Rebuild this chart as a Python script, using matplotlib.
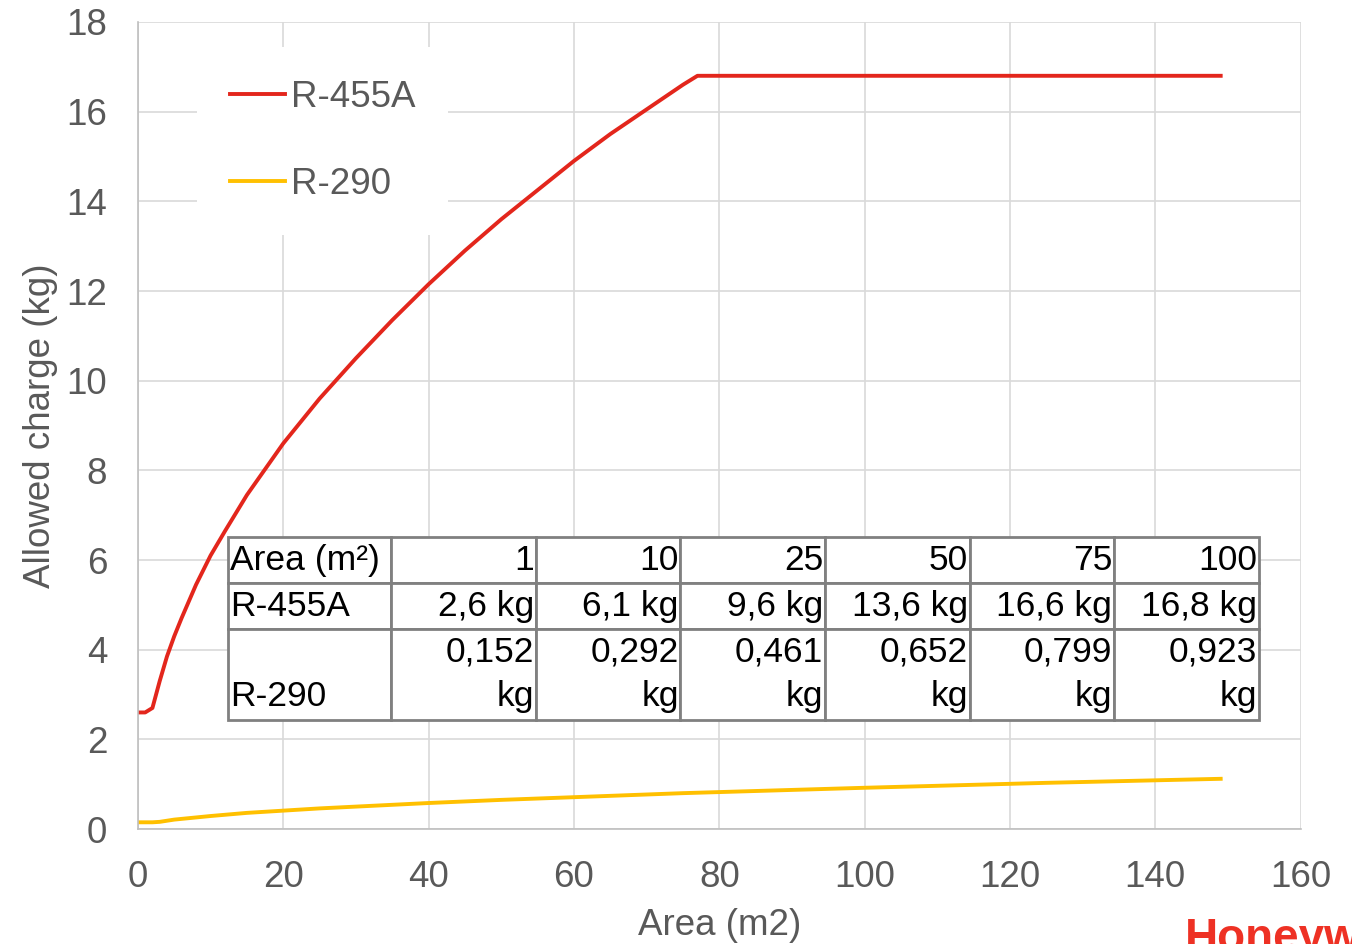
import matplotlib.pyplot as plt
from matplotlib.table import Table

plt.rcParams['font.family'] = ['Liberation Sans', 'DejaVu Sans']

# data
area_455 = [0, 1, 2, 3, 4, 5, 6, 8, 10, 12, 15, 20, 25, 30, 35, 40, 45, 50,
            55, 60, 65, 70, 75, 77, 149]
charge_455 = [2.6, 2.6, 2.7, 3.3, 3.85, 4.3, 4.7, 5.45, 6.1, 6.65, 7.45, 8.6,
              9.6, 10.5, 11.35, 12.15, 12.9, 13.6, 14.25, 14.9, 15.5, 16.05,
              16.6, 16.8, 16.8]
area_290 = [0, 1, 2, 3, 5, 10, 15, 20, 25, 30, 40, 50, 60, 75, 100, 125, 149]
charge_290 = [0.15, 0.15, 0.15, 0.16, 0.21, 0.29, 0.36, 0.41, 0.46, 0.5, 0.58,
              0.65, 0.71, 0.8, 0.92, 1.03, 1.12]

table_areas = ["1", "10", "25", "50", "75", "100"]
table_455 = ["2,6 kg", "6,1 kg", "9,6 kg", "13,6 kg", "16,6 kg", "16,8 kg"]
table_290 = ["0,152", "0,292", "0,461", "0,652", "0,799", "0,923"]

red = '#e3261c'
gold = '#ffc000'
grey_txt = '#595959'
fs = 26.5

fig = plt.figure(figsize=(13.52, 9.44), dpi=100)
ax = fig.add_axes([0.102, 0.1218, 0.860, 0.8549])

ax.plot(area_455, charge_455, color=red, lw=2.8, label='R-455A')
ax.plot(area_290, charge_290, color=gold, lw=2.8, label='R-290')

ax.set_xlim(0, 160)
ax.set_ylim(0, 18)
ax.set_xticks(range(0, 161, 20))
ax.set_yticks(range(0, 19, 2))
ax.grid(color='#d9d9d9', lw=1.2)
ax.set_axisbelow(True)
for s in ['top', 'right']:
    ax.spines[s].set_visible(False)
for s in ['left', 'bottom']:
    ax.spines[s].set_color('#bfbfbf')
    ax.spines[s].set_linewidth(1.2)
ax.tick_params(length=0, labelsize=fs, labelcolor=grey_txt, pad=22)
ax.set_xlabel('Area (m2)', fontsize=fs, color=grey_txt, labelpad=10)
ax.set_ylabel('Allowed charge (kg)', fontsize=fs, color=grey_txt, labelpad=6)

leg = ax.legend(loc='upper left', bbox_to_anchor=(0.035, 0.992), fontsize=fs,
                frameon=True, handlelength=1.5, handletextpad=0.15,
                labelspacing=1.4, borderpad=0.9)
leg.get_frame().set_edgecolor('none')
leg.get_frame().set_facecolor('white')
leg.get_frame().set_alpha(1)
for t in leg.get_texts():
    t.set_color(grey_txt)

# data table
tbl = Table(ax, bbox=[0.0774, 0.135, 0.8865, 0.2268])
w0, w = 164, 145
hs = [46, 46, 91]
rows = [["Area (m²)"] + table_areas,
        ["R-455A"] + table_455,
        ["\nR-290"] + [v + "\nkg" for v in table_290]]
for r, row in enumerate(rows):
    for c, txt in enumerate(row):
        cell = tbl.add_cell(r, c, width=w0 if c == 0 else w, height=hs[r],
                            text=txt, loc='left' if c == 0 else 'right',
                            facecolor='white', edgecolor='#808080')
        cell.PAD = 0.012
        cell.set_linewidth(2)
        cell.get_text().set_fontsize(25.5)
        cell.get_text().set_multialignment('right' if c else 'left')
        cell.get_text().set_linespacing(1.45)
tbl.auto_set_font_size(False)
tbl.set_zorder(5)
ax.add_table(tbl)

fig.text(1185 / 1352, 1 - 917 / 944, 'Honeywell', color='#ee3124', fontsize=33,
         fontweight='bold', ha='left', va='top')

fig.savefig('out.png', dpi=100)
